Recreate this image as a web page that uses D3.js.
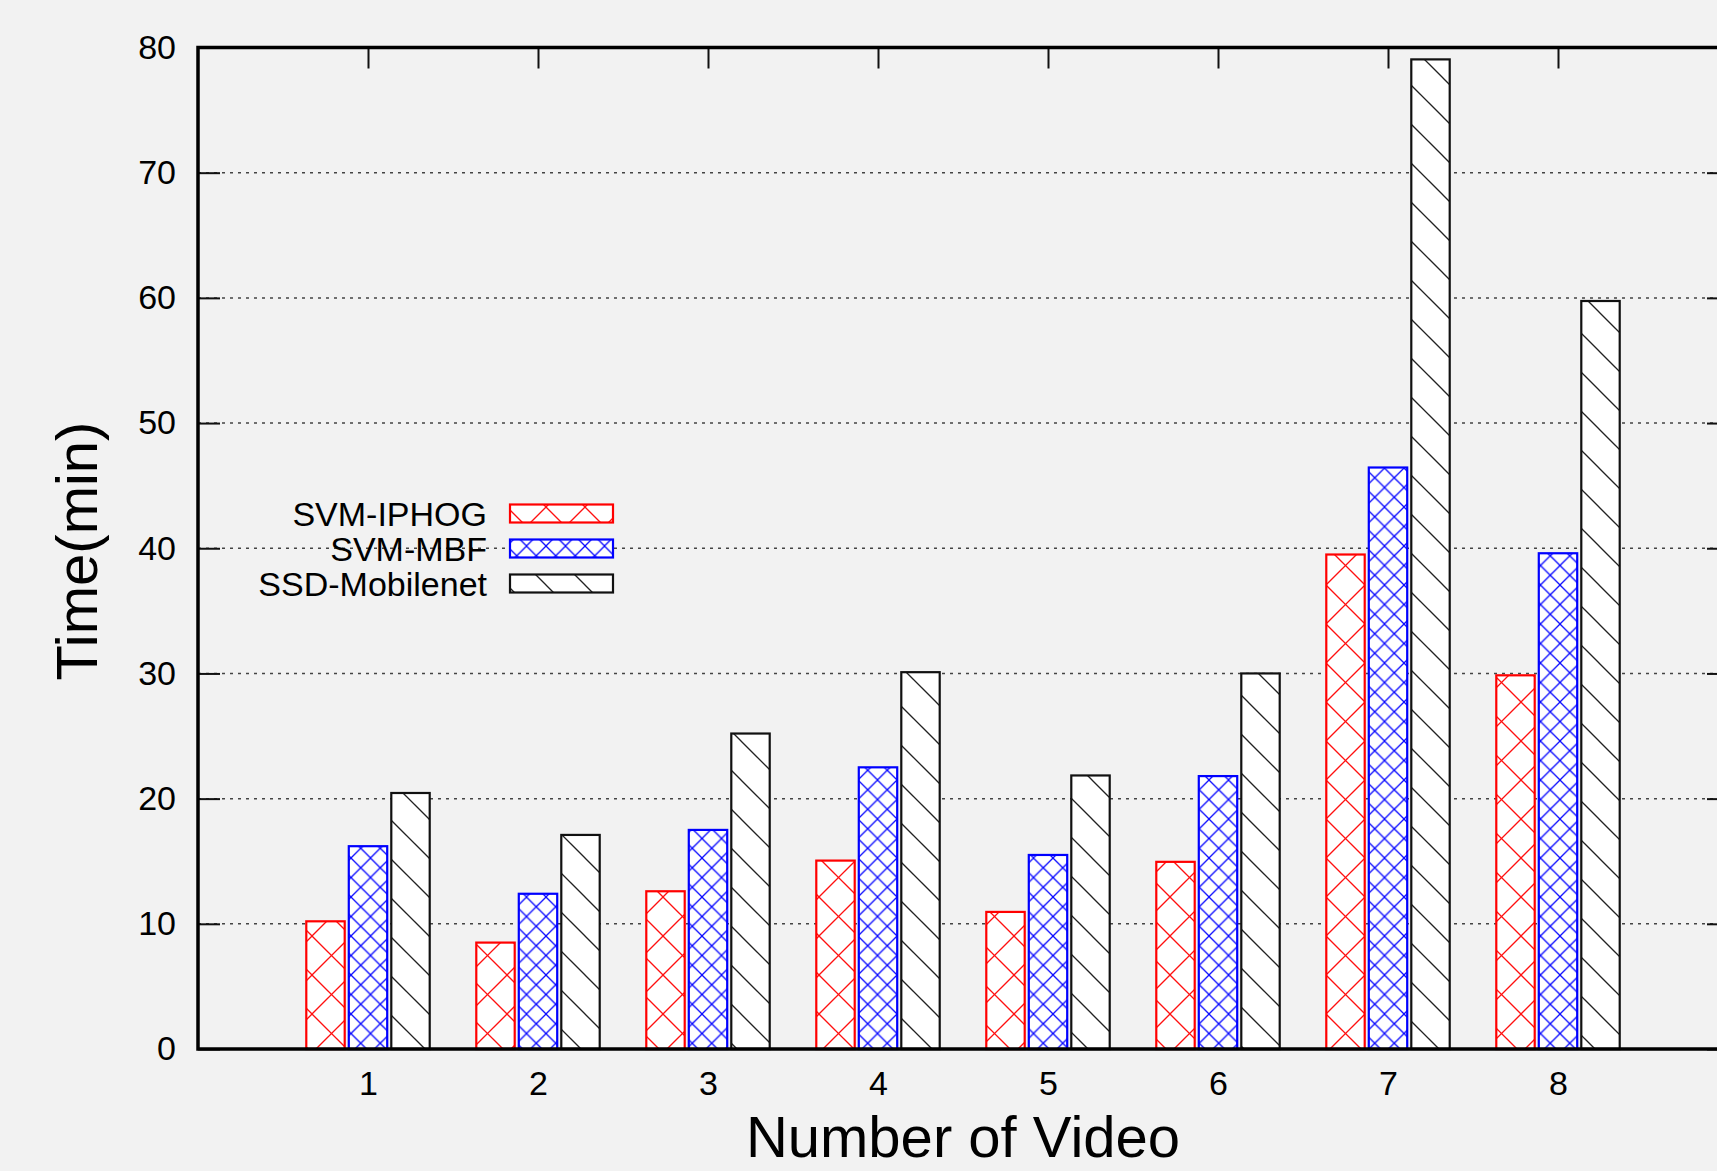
<!DOCTYPE html>
<html>
<head>
<meta charset="utf-8">
<script src="https://cdn.jsdelivr.net/npm/d3@7"></script>
<style>
  html, body { margin: 0; padding: 0; background: #f2f2f2; }
  svg { display: block; }
  text { font-family: "Liberation Sans", Arial, Helvetica, sans-serif; fill: #000; }
</style>
</head>
<body>
<svg id="chart" width="1717" height="1171"></svg>
<script>
// ---- data ----
const categories = [1, 2, 3, 4, 5, 6, 7, 8];
const seriesNames = ["SVM-IPHOG", "SVM-MBF", "SSD-Mobilenet"];
const svmIphog = [10.2, 8.5, 12.6, 15.05, 10.95, 14.95, 39.5, 29.85];
const svmMbf = [16.2, 12.4, 17.5, 22.5, 15.5, 21.8, 46.45, 39.6];
const ssdMobilenet = [20.45, 17.1, 25.2, 30.1, 21.85, 30.0, 79.05, 59.75];
const yTicks = [0, 10, 20, 30, 40, 50, 60, 70, 80];
const xLabel = "Number of Video";
const yLabel = "Time(min)";

const seriesValues = [svmIphog, svmMbf, ssdMobilenet];
const seriesColors = ["#ff0000", "#0000ff", "#111111"];
const seriesPatterns = ["pRed", "pBlue", "pBlack"];

// ---- layout ----
const svg = d3.select("#chart");
const W = 1717, H = 1171;
const pLeft = 198, pRight = 1728, pTop = 47.5, pBottom = 1049;

const x = d3.scaleLinear().domain([0, 9]).range([pLeft, pRight]);
const y = d3.scaleLinear().domain([0, 80]).range([pBottom, pTop]);
const step = x(1) - x(0);
const barW = step * 0.226;
const offsets = [-0.25, 0, 0.25];

svg.append("rect").attr("width", W).attr("height", H).attr("fill", "#f2f2f2");

// ---- patterns ----
const defs = svg.append("defs");
function crossPattern(id, size, color) {
  const p = defs.append("pattern").attr("id", id)
    .attr("patternUnits", "userSpaceOnUse")
    .attr("width", size).attr("height", size);
  p.append("rect").attr("width", size).attr("height", size).attr("fill", "#fff");
  const g = p.append("g").attr("stroke", color).attr("stroke-width", 1.3).attr("fill", "none");
  g.append("line").attr("x1", -1).attr("y1", -1).attr("x2", size + 1).attr("y2", size + 1);
  g.append("line").attr("x1", size + 1).attr("y1", -1).attr("x2", -1).attr("y2", size + 1);
}
crossPattern("pRed", 39, "#ff1010");
crossPattern("pBlue", 19.5, "#0a0aff");
(function () {
  const size = 39;
  const p = defs.append("pattern").attr("id", "pBlack")
    .attr("patternUnits", "userSpaceOnUse")
    .attr("width", size).attr("height", size);
  p.append("rect").attr("width", size).attr("height", size).attr("fill", "#fff");
  const g = p.append("g").attr("stroke", "#222").attr("stroke-width", 1.3);
  g.append("line").attr("x1", -1).attr("y1", -1).attr("x2", size + 1).attr("y2", size + 1);
  g.append("line").attr("x1", -2).attr("y1", size - 2).attr("x2", 2).attr("y2", size + 2);
  g.append("line").attr("x1", size - 2).attr("y1", -2).attr("x2", size + 2).attr("y2", 2);
})();

// ---- grid ----
svg.append("g").selectAll("line")
  .data(yTicks.filter(t => t > 0 && t < 80))
  .join("line")
  .attr("x1", pLeft).attr("x2", pRight)
  .attr("y1", d => y(d)).attr("y2", d => y(d))
  .attr("stroke", "#444").attr("stroke-width", 1.5)
  .attr("stroke-dasharray", "3,5");

// ---- axes (ticks inward) ----
const fontTick = 34;
const gLeft = svg.append("g").attr("transform", `translate(${pLeft},0)`)
  .call(d3.axisLeft(y).tickValues(yTicks).tickSizeInner(-22).tickSizeOuter(0).tickPadding(22));
const gRight = svg.append("g").attr("transform", `translate(${pRight},0)`)
  .call(d3.axisRight(y).tickValues(yTicks).tickSizeInner(-21).tickSizeOuter(0).tickFormat(""));
const gTop = svg.append("g").attr("transform", `translate(0,${pTop})`)
  .call(d3.axisTop(x).tickValues(categories).tickSizeInner(-21).tickSizeOuter(0).tickFormat(""));
const gBottom = svg.append("g").attr("transform", `translate(0,${pBottom})`)
  .call(d3.axisBottom(x).tickValues(categories).tickSizeInner(-21).tickSizeOuter(0).tickPadding(22));
[gLeft, gRight, gTop, gBottom].forEach(g => {
  g.select(".domain").remove();
  g.selectAll(".tick line").attr("stroke", "#111").attr("stroke-width", 2);
  g.selectAll("text").attr("font-size", fontTick)
    .attr("font-family", '"Liberation Sans", Arial, sans-serif').attr("fill", "#000");
});

// ---- bars ----
seriesValues.forEach((vals, si) => {
  svg.append("g").selectAll("rect")
    .data(vals.map((v, i) => ({ c: categories[i], v })))
    .join("rect")
    .attr("x", d => x(d.c + offsets[si]) - barW / 2)
    .attr("width", barW)
    .attr("y", d => y(d.v))
    .attr("height", d => y(0) - y(d.v))
    .attr("fill", `url(#${seriesPatterns[si]})`)
    .attr("stroke", seriesColors[si])
    .attr("stroke-width", 2.2);
});

// ---- frame ----
svg.append("rect")
  .attr("x", pLeft).attr("y", pTop)
  .attr("width", pRight - pLeft).attr("height", pBottom - pTop)
  .attr("fill", "none").attr("stroke", "#000").attr("stroke-width", 3.5);

// ---- axis titles ----
svg.append("text")
  .attr("x", (pLeft + pRight) / 2).attr("y", 1157)
  .attr("text-anchor", "middle").attr("font-size", 58)
  .text(xLabel);
svg.append("text")
  .attr("transform", "translate(97,551) rotate(-90)")
  .attr("text-anchor", "middle").attr("font-size", 58)
  .text(yLabel);

// ---- legend ----
const legend = svg.append("g");
const legendY = [513.5, 548.5, 583.5];
seriesNames.forEach((name, i) => {
  legend.append("text")
    .attr("x", 487).attr("y", legendY[i] + 12)
    .attr("text-anchor", "end").attr("font-size", fontTick)
    .text(name);
  legend.append("rect")
    .attr("x", 510).attr("y", legendY[i] - 9)
    .attr("width", 103).attr("height", 18)
    .attr("fill", `url(#${seriesPatterns[i]})`)
    .attr("stroke", seriesColors[i]).attr("stroke-width", 2.2);
});
</script>
</body>
</html>
